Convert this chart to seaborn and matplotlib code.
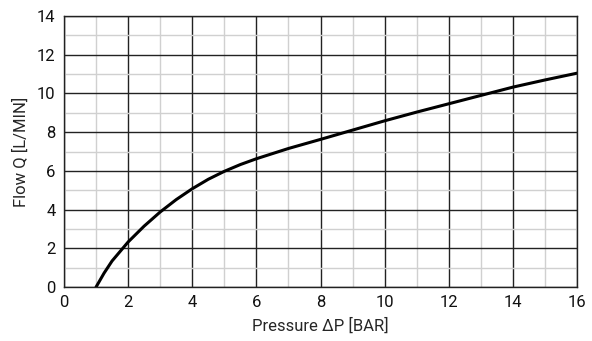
import matplotlib
matplotlib.use("Agg")
import matplotlib.pyplot as plt
from matplotlib.ticker import MultipleLocator
import pandas as pd
import seaborn as sns

# values
pressure = [1, 1.25, 1.5, 2, 2.5, 3, 3.5, 4, 4.5, 5, 5.5, 6, 7, 8, 9, 10,
            11, 12, 13, 14, 15, 16]
flow = [0, 0.72, 1.35, 2.33, 3.15, 3.88, 4.52, 5.08, 5.57, 5.98, 6.33, 6.63,
        7.16, 7.63, 8.11, 8.59, 9.04, 9.47, 9.9, 10.33, 10.7, 11.05]

df = pd.DataFrame({'pressure': pressure, 'flow': flow})

sns.set_style('white')
plt.rcParams['font.family'] = ['Roboto', 'DejaVu Sans']

fig = plt.figure(figsize=(5.92, 3.41), dpi=100)
ax = fig.add_axes([0.108, 0.158, 0.867, 0.795])

sns.lineplot(data=df, x='pressure', y='flow', ax=ax, color='black', linewidth=2.2)

ax.set_xlim(0, 16)
ax.set_ylim(0, 14)
ax.xaxis.set_major_locator(MultipleLocator(2))
ax.yaxis.set_major_locator(MultipleLocator(2))
ax.xaxis.set_minor_locator(MultipleLocator(1))
ax.yaxis.set_minor_locator(MultipleLocator(1))
ax.grid(which='minor', color='#d0d0d0', linewidth=1.0)
ax.grid(which='major', color='#222222', linewidth=1.0)
ax.set_axisbelow(True)
ax.tick_params(which='both', length=0, labelsize=12, colors='#111111', pad=6)

for s in ax.spines.values():
    s.set_color('#222222')
    s.set_linewidth(1.0)

ax.set_xlabel('Pressure ΔP [BAR]', fontsize=12, labelpad=5)
ax.set_ylabel('Flow Q [L/MIN]', fontsize=12, labelpad=6)

fig.savefig('out.png', dpi=100)
